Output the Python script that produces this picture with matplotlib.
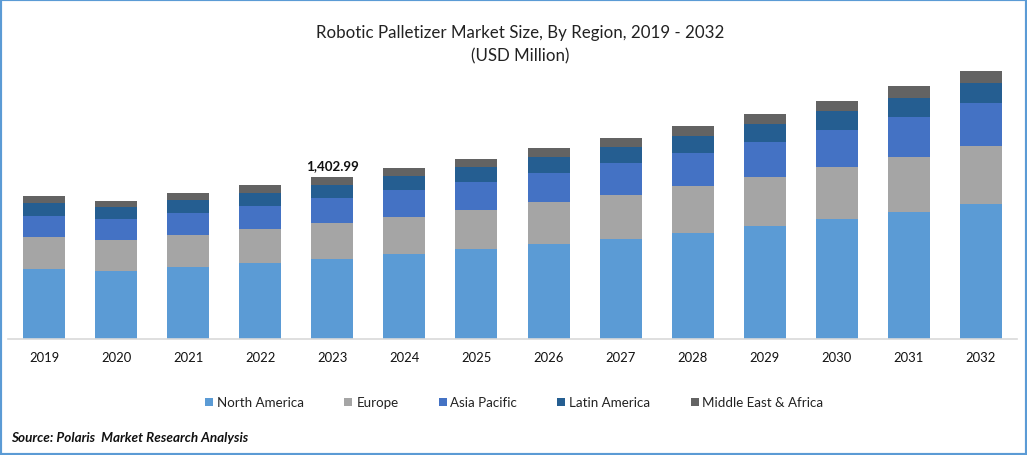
import matplotlib
matplotlib.use('Agg')
import matplotlib.pyplot as plt
from matplotlib.patches import Rectangle
import numpy as np

plt.rcParams['font.family'] = ['Lato', 'DejaVu Sans']

years = ['2019', '2020', '2021', '2022', '2023', '2024', '2025',
         '2026', '2027', '2028', '2029', '2030', '2031', '2032']
north_america = [606, 589, 624, 658, 693, 736, 779, 823, 866, 918, 979, 1039, 1100, 1169]
europe = [277, 268, 277, 294, 312, 320, 338, 364, 381, 407, 424, 450, 476, 502]
asia_pacific = [182, 182, 191, 199, 216, 234, 242, 251, 277, 286, 303, 320, 346, 372]
latin_america = [113, 104, 113, 113, 113, 121, 130, 139, 139, 147, 156, 165, 165, 173]
mea = [61, 52, 61, 69, 69, 69, 69, 78, 78, 87, 87, 87, 104, 104]

series = [('North America', north_america, '#5b9bd5'),
          ('Europe', europe, '#a5a5a5'),
          ('Asia Pacific', asia_pacific, '#4472c4'),
          ('Latin America', latin_america, '#255e91'),
          ('Middle East & Africa', mea, '#636363')]

W, H = 1027, 456
fig = plt.figure(figsize=(W / 100, H / 100), dpi=100)
ax = fig.add_axes([8 / W, 1 - 340 / H, 1009 / W, 279 / H])

x = np.arange(len(years))
bottom = np.zeros(len(years))
for name, vals, col in series:
    ax.bar(x, vals, 0.583, bottom=bottom, color=col, label=name)
    bottom += np.array(vals)

ax.set_xlim(-0.5, 13.5)
ax.set_ylim(0, 2416)
ax.set_yticks([])
ax.set_xticks(x)
ax.set_xticklabels(years, fontsize=9.4, color='#111111')
ax.tick_params(axis='x', length=0, pad=9)
for s in ['top', 'left', 'right']:
    ax.spines[s].set_visible(False)
ax.spines['bottom'].set_color('#d9d9d9')
ax.spines['bottom'].set_linewidth(1.2)

# label only on the base year
ax.text(x[4], bottom[4] + 50, '1,402.99', ha='center', va='bottom',
        fontsize=9.6, fontweight='bold', color='#111111')

fig.text(520 / W, 1 - 33 / H, 'Robotic Palletizer Market Size, By Region, 2019 - 2032',
         ha='center', va='center', fontsize=12.2, color='#222222')
fig.text(520 / W, 1 - 56 / H, '(USD Million)', ha='center', va='center',
         fontsize=12.2, color='#222222')

fig.legend(loc='center', bbox_to_anchor=(514.5 / W, 1 - 403.5 / H), ncol=5, frameon=False,
           fontsize=9.6, handlelength=0.6, handleheight=0.6, handletextpad=0.3,
           columnspacing=3.0, labelcolor='#222222')

fig.text(11 / W, 1 - 438 / H, 'Source: Polaris  Market Research Analysis', ha='left', va='center',
         fontsize=9.7, fontweight='bold', fontstyle='italic', color='#111111')

# blue frame round the whole picture
fig.add_artist(Rectangle((0, 0), 1, 1, transform=fig.transFigure, fill=False,
                         edgecolor='#5b9bd5', linewidth=3))

fig.savefig('out.png', dpi=100)
